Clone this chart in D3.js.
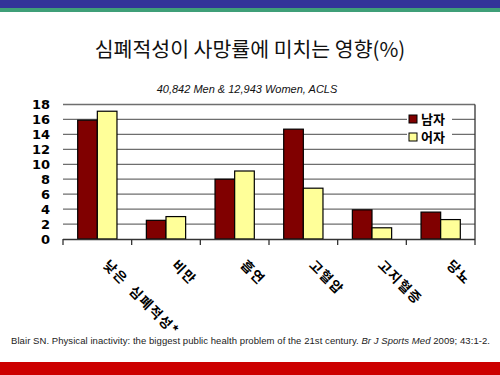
<!DOCTYPE html>
<html><head><meta charset="utf-8">
<script src="https://cdn.jsdelivr.net/npm/d3@7"></script>
<style>body{margin:0;background:#fff}svg{display:block}</style>
</head><body>
<script>
const categories = ["낮은 심폐적성*", "비만", "흡연", "고혈압", "고지혈증", "당뇨"];
const seriesNames = ["남자", "어자"];
const men = [15.9, 2.5, 8.0, 14.7, 3.9, 3.6];
const women = [17.1, 3.0, 9.1, 6.8, 1.5, 2.6];
const yTicks = [0, 2, 4, 6, 8, 10, 12, 14, 16, 18];
const colors = ["#800000", "#FFFF99"];
const title = "심폐적성이 사망률에 미치는 영향(%)";
const subtitle = "40,842 Men & 12,943 Women, ACLS";

(function(){
const W = 500, H = 375;
const svg = d3.select("body").append("svg").attr("width", W).attr("height", H);

svg.append("rect").attr("x",0).attr("y",0).attr("width",W).attr("height",8).attr("fill","#333399");
svg.append("rect").attr("x",0).attr("y",8).attr("width",W).attr("height",4).attr("fill","#3f9f78");
svg.append("rect").attr("x",0).attr("y",362).attr("width",W).attr("height",13).attr("fill","#cc0000");

svg.append("text").attr("x",250).attr("y",57).attr("text-anchor","middle")
  .style("font-family","'Noto Sans CJK KR', sans-serif").style("font-size","20.5px").attr("fill","#111")
  .text(title);
svg.append("text").attr("x",247).attr("y",93).attr("text-anchor","middle")
  .style("font-family","'Liberation Sans', Arial, sans-serif").style("font-size","11px").style("font-style","italic").attr("fill","#111")
  .text(subtitle);

const pLeft = 63, pRight = 475, pTop = 104.5, pBottom = 239;
const x = d3.scaleBand().domain(categories).range([pLeft, pRight]).paddingInner(0.428).paddingOuter(0.214);
const xs = d3.scaleBand().domain(seriesNames).range([0, x.bandwidth()]);
const y = d3.scaleLinear().domain([0, 18]).range([pBottom, pTop]);

svg.append("g").selectAll("line").data(yTicks.filter(d => d > 0)).join("line")
  .attr("x1", pLeft).attr("x2", pRight).attr("y1", d => y(d)).attr("y2", d => y(d))
  .attr("stroke", "#6e6e6e").attr("stroke-width", 1.3);
svg.append("line").attr("x1", pRight).attr("x2", pRight).attr("y1", y(18)).attr("y2", pBottom)
  .attr("stroke", "#333").attr("stroke-width", 1.3);

svg.append("g").selectAll("text").data(yTicks).join("text")
  .attr("x", 50).attr("y", d => y(d)).attr("dy", "0.36em").attr("text-anchor", "end")
  .style("font-family","'DejaVu Sans', Verdana, sans-serif").style("font-weight","bold").style("font-size","13px")
  .attr("fill","#000").text(d => d);

const data = categories.map((c, i) => ({c, vals: [men[i], women[i]]}));
const g = svg.append("g").selectAll("g").data(data).join("g").attr("transform", d => `translate(${x(d.c)},0)`);
g.selectAll("rect").data(d => d.vals.map((v, j) => ({s: seriesNames[j], v, j}))).join("rect")
  .attr("x", d => xs(d.s)).attr("width", xs.bandwidth())
  .attr("y", d => y(d.v)).attr("height", d => pBottom - y(d.v))
  .attr("fill", d => colors[d.j]).attr("stroke", "#000").attr("stroke-width", 1.2);

svg.append("line").attr("x1", pLeft).attr("x2", pRight).attr("y1", pBottom+0.5).attr("y2", pBottom+0.5)
  .attr("stroke", "#333").attr("stroke-width", 1.3);
const bounds = d3.range(categories.length + 1).map(i => pLeft + i * x.step());
svg.append("g").selectAll("line").data(bounds).join("line")
  .attr("x1", d => d).attr("x2", d => d).attr("y1", pBottom).attr("y2", pBottom + 6)
  .attr("stroke", "#333").attr("stroke-width", 1.3);

svg.append("g").selectAll("text").data(categories).join("text")
  .attr("transform", d => `translate(${x(d) + x.bandwidth()/2 + 5},266) rotate(45)`)
  .style("font-family","'Noto Sans CJK KR', sans-serif").style("font-weight","bold").style("font-size","13.5px")
  .style("letter-spacing","1.5px").style("word-spacing","4px")
  .attr("fill","#000").text(d => d);

const lg = svg.append("g");
lg.append("rect").attr("x", 407).attr("y", 110).attr("width", 45).attr("height", 37).attr("fill", "#fff");
seriesNames.forEach((s, i) => {
  const yy = 115 + i * 18;
  lg.append("rect").attr("x", 409).attr("y", yy).attr("width", 8).attr("height", 8)
    .attr("fill", colors[i]).attr("stroke", "#000").attr("stroke-width", 1);
  lg.append("text").attr("x", 421).attr("y", yy + 4).attr("dy", "0.36em")
    .style("font-family","'Noto Sans CJK KR', sans-serif").style("font-weight","bold").style("font-size","13px")
    .attr("fill","#000").text(s);
});

const ft = svg.append("text").attr("x", 11).attr("y", 344)
  .style("font-family","'Liberation Sans', Arial, sans-serif").style("font-size","9.5px").attr("fill","#222")
  .attr("textLength", 479).attr("lengthAdjust", "spacing");
ft.append("tspan").text("Blair SN. Physical inactivity: the biggest public health problem of the 21st century. ");
ft.append("tspan").style("font-style","italic").text("Br J Sports Med");
ft.append("tspan").text(" 2009; 43:1-2.");
})();
</script>
</body></html>
